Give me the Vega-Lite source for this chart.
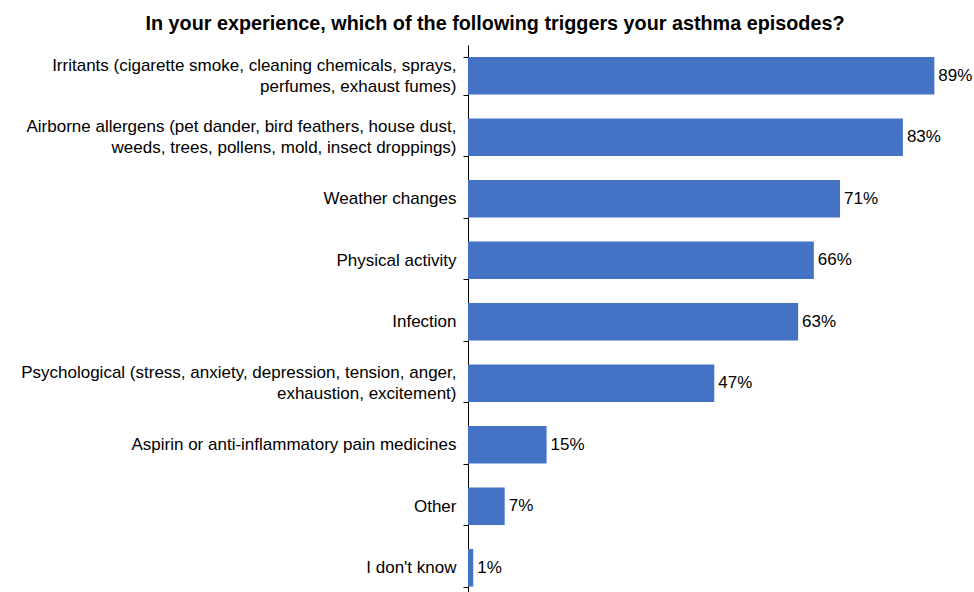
{
  "$schema": "https://vega.github.io/schema/vega-lite/v6.json",
  "autosize": "none",
  "padding": {"left": 468, "top": 45, "right": 0, "bottom": 0},
  "width": 524,
  "height": 553.5,
  "background": "white",
  "title": {
    "text": "In your experience, which of the following triggers your asthma episodes?",
    "font": "Liberation Sans, Arial",
    "fontSize": 19.8,
    "fontWeight": "bold",
    "color": "#000000",
    "anchor": "middle",
    "frame": "group",
    "dx": -235,
    "offset": 2
  },
  "data": {
    "values": [
      {"trigger": "Irritants (cigarette smoke, cleaning chemicals, sprays,|perfumes, exhaust fumes)", "share": 0.89},
      {"trigger": "Airborne allergens (pet dander, bird feathers, house dust,|weeds, trees, pollens, mold, insect droppings)", "share": 0.83},
      {"trigger": "Weather changes", "share": 0.71},
      {"trigger": "Physical activity", "share": 0.66},
      {"trigger": "Infection", "share": 0.63},
      {"trigger": "Psychological (stress, anxiety, depression, tension, anger,|exhaustion, excitement)", "share": 0.47},
      {"trigger": "Aspirin or anti-inflammatory pain medicines", "share": 0.15},
      {"trigger": "Other", "share": 0.07},
      {"trigger": "I don't know", "share": 0.01}
    ]
  },
  "encoding": {
    "y": {
      "field": "trigger",
      "type": "nominal",
      "sort": null,
      "scale": {"paddingInner": 0.39, "paddingOuter": 0.195},
      "axis": {
        "title": null,
        "labelExpr": "isValid(datum.value) ? split(datum.value, '|') : ''",
        "labelFont": "Liberation Sans, Arial",
        "labelFontSize": 17,
        "labelColor": "#000000",
        "labelLineHeight": 21,
        "labelPadding": 7,
        "labelLimit": 0,
        "labelOffset": {
          "condition": {"test": "isValid(datum.value) && indexof(datum.value, '|') >= 0", "value": -10.5},
          "value": 0
        },
        "tickBand": "extent",
        "tickSize": 5,
        "tickColor": "#000000",
        "tickWidth": 1,
        "domainColor": "#000000",
        "domainWidth": 1,
        "grid": false
      }
    },
    "x": {
      "field": "share",
      "type": "quantitative",
      "scale": {"domain": [0, 1], "nice": false},
      "axis": null
    }
  },
  "layer": [
    {"mark": {"type": "bar", "color": "#4472C4"}},
    {
      "mark": {
        "type": "text",
        "align": "left",
        "baseline": "middle",
        "dx": 4,
        "font": "Liberation Sans, Arial",
        "fontSize": 17,
        "color": "#000000"
      },
      "encoding": {"text": {"field": "share", "type": "quantitative", "format": ".0%"}}
    }
  ],
  "config": {"view": {"stroke": null}}
}
